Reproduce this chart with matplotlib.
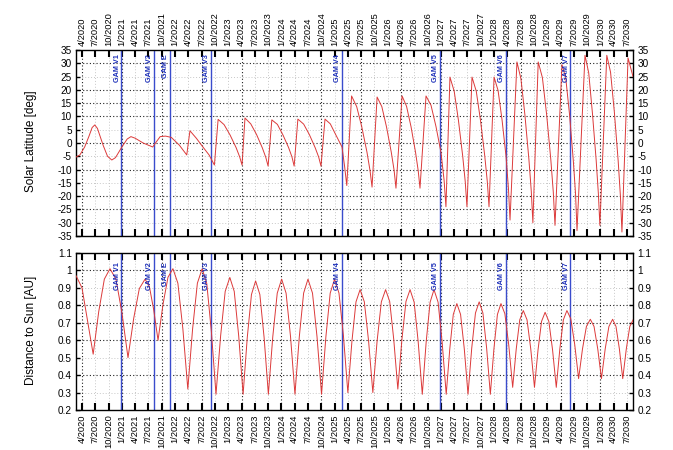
import matplotlib
matplotlib.use('Agg')
import matplotlib.pyplot as plt
from matplotlib.ticker import FixedLocator, FuncFormatter

plt.rcParams['font.family'] = ['Liberation Sans', 'DejaVu Sans']

# ---------------- data (decimal years) ----------------
tick_labels = ['4/2020', '7/2020', '10/2020', '1/2021', '4/2021', '7/2021', '10/2021',
               '1/2022', '4/2022', '7/2022', '10/2022', '1/2023', '4/2023', '7/2023',
               '10/2023', '1/2024', '4/2024', '7/2024', '10/2024', '1/2025', '4/2025',
               '7/2025', '10/2025', '1/2026', '4/2026', '7/2026', '10/2026', '1/2027',
               '4/2027', '7/2027', '10/2027', '1/2028', '4/2028', '7/2028', '10/2028',
               '1/2029', '4/2029', '7/2029', '10/2029', '1/2030', '4/2030', '7/2030']

gam_names = ['GAM V1', 'GAM V2', 'GAM E', 'GAM V3', 'GAM V4', 'GAM V5', 'GAM V6', 'GAM V7']
gam_t = [2020.99, 2021.605, 2021.905, 2022.675, 2025.135, 2026.98, 2028.215, 2029.435]

lat_t = [
    2020.137, 2020.21, 2020.30, 2020.38, 2020.44, 2020.49, 2020.54, 2020.65, 2020.73, 2020.81,
    2020.88, 2021.00, 2021.10, 2021.17, 2021.25, 2021.40, 2021.58, 2021.65, 2021.72, 2021.82,
    2021.93, 2022.08, 2022.22, 2022.28, 2022.40, 2022.52, 2022.64, 2022.74, 2022.81,
    2022.9225, 2023.035, 2023.1475, 2023.215, 2023.26, 2023.315,
    2023.424, 2023.5325, 2023.641, 2023.7065, 2023.75, 2023.82,
    2023.925, 2024.03, 2024.135, 2024.198, 2024.24, 2024.31,
    2024.419, 2024.5275, 2024.636, 2024.7015, 2024.745, 2024.82,
    2024.92, 2025.02, 2025.14, 2025.19, 2025.23, 2025.32,
    2025.416, 2025.5125, 2025.609, 2025.6665, 2025.705, 2025.80,
    2025.889, 2025.9775, 2026.066, 2026.12, 2026.155, 2026.27,
    2026.354, 2026.4385, 2026.523, 2026.573, 2026.607, 2026.72,
    2026.814, 2026.9075, 2027.001, 2027.06, 2027.095, 2027.17,
    2027.25, 2027.33, 2027.41, 2027.458, 2027.49, 2027.585,
    2027.665, 2027.745, 2027.825, 2027.873, 2027.905, 2028.00,
    2028.075, 2028.15, 2028.225, 2028.27, 2028.30, 2028.43,
    2028.505, 2028.58, 2028.655, 2028.70, 2028.73, 2028.83,
    2028.909, 2028.988, 2029.067, 2029.114, 2029.146, 2029.277,
    2029.348, 2029.4185, 2029.489, 2029.532, 2029.56, 2029.71,
    2029.78, 2029.85, 2029.92, 2029.962, 2029.99, 2030.12,
    2030.191, 2030.2625, 2030.334, 2030.3765, 2030.405, 2030.52,
    2030.613]
lat_v = [
    -5.3, -4.5, -1.5, 2.5, 5.8, 6.8, 5.5, -1.0, -5.0, -6.4,
    -5.5, -1.5, 1.5, 2.4, 1.8, 0.0, -1.5, 0.5, 2.4, 2.6,
    2.1, -0.8, -4.5, 4.6, 1.8, -1.4, -4.5, -8.3, 8.9,
    6.9, 3.0, -1.7, -5.2, -8.3, 9.4,
    7.2, 3.2, -1.8, -5.4, -8.7, 8.7,
    7.0, 3.0, -1.7, -5.2, -8.7, 9.0,
    7.1, 3.1, -1.8, -5.3, -8.7, 9.0,
    7.2, 3.2, -1.5, -9.0, -16.0, 17.7,
    13.7, 6.0, -3.4, -10.3, -16.6, 17.3,
    13.7, 6.0, -3.4, -10.3, -17.0, 17.7,
    13.8, 6.1, -3.5, -10.4, -17.0, 17.7,
    14.2, 6.2, -3.5, -14.0, -24.0, 24.8,
    19.5, 8.5, -4.9, -14.6, -24.0, 24.8,
    19.5, 8.5, -4.9, -14.6, -24.0, 24.8,
    19.8, 8.7, -5.0, -17.0, -29.0, 30.5,
    24.2, 10.6, -6.1, -18.2, -30.0, 30.5,
    24.6, 10.8, -6.2, -18.5, -31.0, 29.5,
    24.5, 10.9, -6.3, -19.0, -33.0, 33.0,
    26.4, 11.2, -6.4, -19.2, -31.0, 33.0,
    26.6, 11.6, -6.7, -20.0, -33.5, 32.0,
    25.0]

dist_t = [
    2020.137, 2020.25, 2020.35, 2020.46,
    2020.565, 2020.67, 2020.776, 2020.889, 2021.002, 2021.115,
    2021.222, 2021.328, 2021.435, 2021.517, 2021.598, 2021.68,
    2021.773, 2021.867, 2021.96, 2022.053, 2022.147, 2022.24,
    2022.33, 2022.42, 2022.51, 2022.597, 2022.683, 2022.77,
    2022.857, 2022.943, 2023.03, 2023.113, 2023.197, 2023.28,
    2023.358, 2023.437, 2023.515, 2023.595, 2023.675, 2023.755,
    2023.838, 2023.922, 2024.005, 2024.088, 2024.172, 2024.255,
    2024.337, 2024.418, 2024.50, 2024.585, 2024.67, 2024.755,
    2024.837, 2024.918, 2025.00, 2025.083, 2025.167, 2025.25,
    2025.327, 2025.403, 2025.48, 2025.56, 2025.64, 2025.72,
    2025.80, 2025.88, 2025.96, 2026.037, 2026.113, 2026.19,
    2026.267, 2026.343, 2026.42, 2026.497, 2026.573, 2026.65,
    2026.723, 2026.797, 2026.87, 2026.947, 2027.023, 2027.10,
    2027.167, 2027.233, 2027.30, 2027.37, 2027.44, 2027.51,
    2027.58, 2027.65, 2027.72, 2027.79, 2027.86, 2027.93,
    2027.997, 2028.063, 2028.13, 2028.203, 2028.277, 2028.35,
    2028.417, 2028.483, 2028.55, 2028.62, 2028.69, 2028.76,
    2028.827, 2028.893, 2028.96, 2029.03, 2029.10, 2029.17,
    2029.237, 2029.303, 2029.37, 2029.443, 2029.517, 2029.59,
    2029.663, 2029.737, 2029.81, 2029.88, 2029.95, 2030.02,
    2030.09, 2030.16, 2030.23, 2030.293, 2030.357, 2030.42,
    2030.487, 2030.553, 2030.62]
dist_v = [
    0.97, 0.90, 0.72, 0.52,
    0.765, 0.95, 1.01, 0.95, 0.755, 0.50,
    0.725, 0.896, 0.95, 0.908, 0.775, 0.60,
    0.805, 0.961, 1.01, 0.927, 0.665, 0.32,
    0.665, 0.927, 1.01, 0.924, 0.65, 0.29,
    0.625, 0.88, 0.96, 0.88, 0.625, 0.29,
    0.615, 0.862, 0.94, 0.862, 0.615, 0.29,
    0.62, 0.87, 0.95, 0.87, 0.62, 0.29,
    0.62, 0.87, 0.95, 0.87, 0.62, 0.29,
    0.62, 0.87, 0.95, 0.87, 0.625, 0.30,
    0.595, 0.82, 0.89, 0.82, 0.595, 0.30,
    0.595, 0.82, 0.89, 0.822, 0.605, 0.32,
    0.605, 0.822, 0.89, 0.818, 0.59, 0.29,
    0.59, 0.818, 0.89, 0.818, 0.59, 0.29,
    0.55, 0.748, 0.81, 0.748, 0.55, 0.29,
    0.555, 0.756, 0.82, 0.756, 0.555, 0.29,
    0.55, 0.748, 0.81, 0.752, 0.57, 0.33,
    0.55, 0.717, 0.77, 0.717, 0.55, 0.33,
    0.545, 0.708, 0.76, 0.708, 0.545, 0.33,
    0.55, 0.717, 0.77, 0.723, 0.575, 0.38,
    0.55, 0.679, 0.72, 0.679, 0.55, 0.38,
    0.55, 0.679, 0.72, 0.679, 0.55, 0.38,
    0.55, 0.679, 0.72]

lat_ticks = list(range(-35, 36, 5))
dist_ticks = [0.2, 0.3, 0.4, 0.5, 0.6, 0.7, 0.8, 0.9, 1.0, 1.1]

# ---------------- figure ----------------
W, H = 673, 450
fig = plt.figure(figsize=(W / 100, H / 100), dpi=100)
ax1 = fig.add_axes([76 / W, 1 - 236 / H, 557 / W, 186 / H])
ax2 = fig.add_axes([76 / W, 1 - 410 / H, 557 / W, 157 / H])

tick_pos = [int(s.split('/')[1]) + (int(s.split('/')[0]) - 1) / 12 for s in tick_labels]
xmin, xmax = 2020.137, 2030.613

red = '#dc3a3a'
blue = '#3a4ccc'
dark_grid = dict(color='#222222', lw=0.8, ls=(0, (1, 2)), zorder=1)
light_grid = dict(color='#c8c8c8', lw=0.7, ls=(0, (1, 2)), zorder=0.5)


def style(ax, ylim, yticks, dark_h, top_labels):
    ax.set_xlim(xmin, xmax)
    ax.set_ylim(*ylim)
    for i, p in enumerate(tick_pos):
        ax.axvline(p, **(dark_grid if i % 3 == 0 else light_grid))
    for v in yticks:
        if ylim[0] < v < ylim[1]:
            dark = any(abs(v - d) < 1e-6 for d in dark_h)
            ax.axhline(v, **(dark_grid if dark else light_grid))
    ax.xaxis.set_major_locator(FixedLocator(tick_pos))
    ax.set_xticklabels(tick_labels)
    ax.yaxis.set_major_locator(FixedLocator(yticks))
    ax.yaxis.set_major_formatter(FuncFormatter(lambda v, p: f'{v:g}'))
    ax.tick_params(axis='x', which='major', direction='in', length=5, width=1.5,
                   top=True, bottom=True, labeltop=top_labels, labelbottom=not top_labels,
                   labelrotation=90, labelsize=6.7, pad=3, colors='black')
    ax.tick_params(axis='y', which='major', direction='in', length=3, width=1,
                   left=True, right=True, labelleft=True, labelright=True,
                   labelsize=7.2, pad=3)
    for s in ax.spines.values():
        s.set_linewidth(1.0)


style(ax1, (-35, 35), lat_ticks, [30, 20, 15, 10, 0, -10, -20, -25], True)
style(ax2, (0.2, 1.1), dist_ticks, [1.0, 0.8, 0.7, 0.6, 0.4], False)

ax1.plot(lat_t, lat_v, color=red, lw=0.7, zorder=3)
ax2.plot(dist_t, dist_v, color=red, lw=0.7, zorder=3)

for ax, ytop in ((ax1, 33.3), (ax2, 1.045)):
    for t, name in zip(gam_t, gam_names):
        ax.axvline(t, color=blue, lw=1.0, zorder=2)
        ax.text(t - 0.015, ytop, name, rotation=90, ha='right', va='top',
                fontsize=5.2, color='#1a2db8', fontweight='bold', zorder=4)

fig.text(31 / W, 1 - 141 / H, 'Solar Latitude [deg]', rotation=90,
         ha='center', va='center', fontsize=8.5)
fig.text(31 / W, 1 - 330 / H, 'Distance to Sun [AU]', rotation=90,
         ha='center', va='center', fontsize=8.5)

fig.savefig('out.png', dpi=100, facecolor='white')
